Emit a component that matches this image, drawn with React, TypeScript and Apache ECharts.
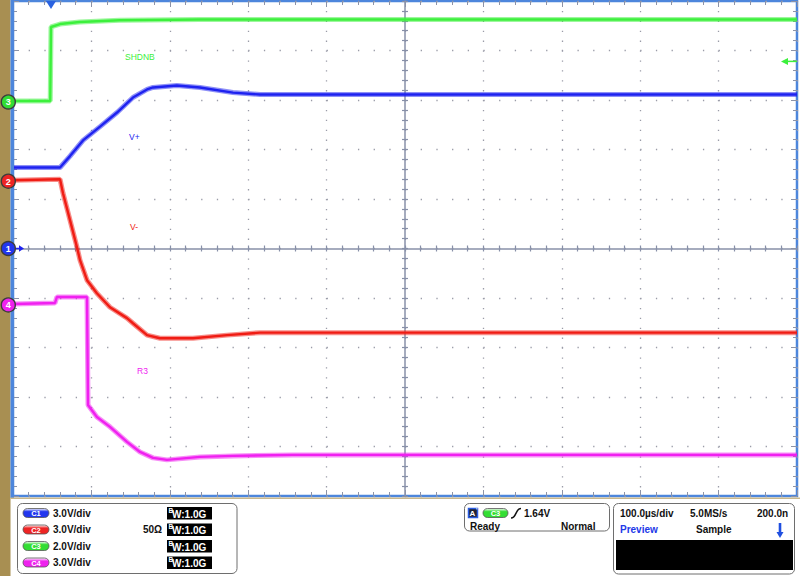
import React, { useEffect, useRef } from 'react';
import * as echarts from 'echarts';

// ---- horizontal: 100 µs/div, 10 divisions ----
const timeMin = 0;
const timeMax = 1000;
const timePerDiv = 100;

// ---- channels ----
const channelNames = ['C1', 'C2', 'C3', 'C4'];
const channelColors = ['#1e22f0', '#f01c14', '#3cf03c', '#f020f0'];
const pillColors = ['#2236ee', '#ee2424', '#33dd33', '#ee22ee'];
const voltsPerDiv = [3.0, 3.0, 2.0, 3.0];
const offsetDivs = [0.0, 1.36, 2.96, -1.14];
const scaleTexts = ['3.0V/div', '3.0V/div', '2.0V/div', '3.0V/div'];
const termTexts = ['', '50Ω', '', ''];
const bwTexts = ['W:1.0G', 'W:1.0G', 'W:1.0G', 'W:1.0G'];
const traceLabels = ['V+', 'V-', 'SHDNB', 'R3'];

// ---- waveforms (time µs, volts) ----
const c1Time = [0, 60, 72.7, 89.3, 111, 132.7, 153, 171, 178.6, 209, 238.5, 280.6, 315, 1000];
const c1Volts = [4.91, 4.91, 5.6, 6.55, 7.39, 8.24, 9.15, 9.64, 9.76, 9.88, 9.76, 9.45, 9.33, 9.33];

const c2Time = [0, 60, 63.8, 72.7, 81.6, 85.5, 94.4, 107, 123.7, 145.4, 153, 171, 187.5, 229.6, 273, 315, 1000];
const c2Volts = [0.06, 0.12, -0.73, -2.36, -4.0, -4.79, -6.0, -6.79, -7.64, -8.3, -8.61, -9.33, -9.52, -9.52, -9.33, -9.18, -9.18];

const c3Time = [0, 47.5, 48.5, 60, 85, 136, 239, 1000];
const c3Volts = [0.04, 0.04, 3.03, 3.15, 3.23, 3.3, 3.33, 3.33];

const c4Time = [0, 53.6, 56, 94.4, 95.7, 107, 123.7, 145.4, 162, 178.6, 196.4, 238.5, 280.6, 357, 1000];
const c4Volts = [0.06, 0.12, 0.48, 0.48, -6.06, -6.79, -7.39, -8.3, -8.91, -9.27, -9.39, -9.21, -9.15, -9.09, -9.09];

const channelTimes = [c1Time, c2Time, c3Time, c4Time];
const channelVolts = [c1Volts, c2Volts, c3Volts, c4Volts];

// ---- trigger ----
const triggerTime = 48.5;
const triggerLevel = 1.64;
const triggerChannel = 2; // C3
const triggerText = '1.64V';

const FONT = '"Liberation Sans", Arial, Helvetica, sans-serif';
const GRID = { left: 13, top: 1, width: 784, height: 495 };
const tickColor = '#8c93a8';
const dotColor = '#9a9ca8';
const crossColor = '#8890a8';

function txt(x: number, y: number, text: string, o: any = {}) {
  const align = o.align ?? 'left';
  return {
    type: 'text',
    z: 100,
    x,
    y,
    style: {
      text,
      fill: o.fill ?? '#111',
      font: `${o.weight ?? 'bold'} ${o.size ?? 10}px ${FONT}`,
      textAlign: align,
      align,
      textVerticalAlign: 'middle',
      verticalAlign: 'middle',
    },
  };
}

export default function App() {
  const ref = useRef<HTMLDivElement>(null);

  useEffect(() => {
    const el = ref.current!;
    const chart = echarts.init(el, null, { renderer: 'svg', width: 800, height: 576 });

    const xCommon: any = {
      type: 'value',
      min: timeMin,
      max: timeMax,
      interval: timePerDiv,
      axisLabel: { show: false },
      splitLine: { show: false },
    };
    const yCommon: any = {
      type: 'value',
      min: -5,
      max: 5,
      interval: 1,
      axisLabel: { show: false },
      splitLine: { show: false },
    };
    const edgeTick = { show: true, inside: true, length: 6, lineStyle: { color: tickColor, width: 1 } };
    const edgeMinor = { show: true, splitNumber: 5, length: 4, lineStyle: { color: tickColor, width: 1 } };

    const xAxis: any[] = [
      {
        ...xCommon,
        position: 'bottom',
        axisLine: { show: false, onZero: false },
        axisTick: edgeTick,
        minorTick: edgeMinor,
        splitLine: { show: true, lineStyle: { color: dotColor, width: 1.3, type: [1.3, 8.6] } },
      },
      { ...xCommon, position: 'top', axisLine: { show: false, onZero: false }, axisTick: edgeTick, minorTick: edgeMinor },
      {
        ...xCommon,
        position: 'bottom',
        offset: -GRID.height / 2,
        axisLine: { show: true, onZero: false, lineStyle: { color: crossColor, width: 1.5 } },
        axisTick: { show: true, inside: true, length: 3, lineStyle: { color: crossColor, width: 1.2 } },
        minorTick: { show: true, splitNumber: 5, length: 3, lineStyle: { color: crossColor, width: 1.2 } },
      },
      {
        ...xCommon,
        position: 'bottom',
        offset: -GRID.height / 2,
        axisLine: { show: false, onZero: false },
        axisTick: { show: true, inside: false, length: 3, lineStyle: { color: crossColor, width: 1.2 } },
        minorTick: { show: true, splitNumber: 5, length: 3, lineStyle: { color: crossColor, width: 1.2 } },
      },
    ];

    const yAxis: any[] = [
      {
        ...yCommon,
        position: 'left',
        axisLine: { show: false, onZero: false },
        axisTick: edgeTick,
        minorTick: edgeMinor,
        splitLine: { show: true, lineStyle: { color: dotColor, width: 1.3, type: [1.3, 14.38] } },
      },
      { ...yCommon, position: 'right', axisLine: { show: false, onZero: false }, axisTick: edgeTick, minorTick: edgeMinor },
      {
        ...yCommon,
        position: 'left',
        offset: -GRID.width / 2,
        axisLine: { show: true, onZero: false, lineStyle: { color: crossColor, width: 1.5 } },
        axisTick: { show: true, inside: true, length: 3, lineStyle: { color: crossColor, width: 1.2 } },
        minorTick: { show: true, splitNumber: 5, length: 3, lineStyle: { color: crossColor, width: 1.2 } },
      },
      {
        ...yCommon,
        position: 'left',
        offset: -GRID.width / 2,
        axisLine: { show: false, onZero: false },
        axisTick: { show: true, inside: false, length: 3, lineStyle: { color: crossColor, width: 1.2 } },
        minorTick: { show: true, splitNumber: 5, length: 3, lineStyle: { color: crossColor, width: 1.2 } },
      },
    ];
    channelNames.forEach((_, i) => {
      yAxis.push({
        type: 'value',
        show: false,
        min: (-5 - offsetDivs[i]) * voltsPerDiv[i],
        max: (5 - offsetDivs[i]) * voltsPerDiv[i],
        axisLine: { onZero: false },
        splitLine: { show: false },
      });
    });

    const series: any[] = [];
    const drawOrder = [3, 1, 0, 2];
    drawOrder.forEach((i) => {
      const data = channelTimes[i].map((t, k) => [t, channelVolts[i][k]]);
      series.push({
        type: 'line',
        name: channelNames[i] + ' band',
        xAxisIndex: 0,
        yAxisIndex: 4 + i,
        data,
        showSymbol: false,
        symbol: 'none',
        silent: true,
        lineStyle: { color: channelColors[i], width: 5, opacity: 0.5 },
        z: 3,
      });
      series.push({
        type: 'line',
        name: channelNames[i],
        xAxisIndex: 0,
        yAxisIndex: 4 + i,
        data,
        showSymbol: false,
        symbol: 'none',
        silent: true,
        lineStyle: { color: channelColors[i], width: 2.4 },
        z: 4,
      });
    });

    chart.setOption({
      animation: false,
      backgroundColor: '#ffffff',
      grid: {
        ...GRID,
        show: true,
        borderColor: '#4d86dc',
        borderWidth: 2.5,
        backgroundColor: '#ffffff',
      },
      xAxis,
      yAxis,
      series,
    });

    // ---- graphics placed through the axes ----
    const g: any[] = [];
    // frame decorations
    g.push({ type: 'rect', z: 90, shape: { x: 0, y: 0, width: 10.5, height: 576 }, style: { fill: '#a88f52' } });
    g.push({ type: 'rect', z: 91, shape: { x: 10.5, y: 0, width: 3.5, height: 498 }, style: { fill: '#4d86dc' } });
    g.push({ type: 'rect', z: 91, shape: { x: 10.5, y: 497.5, width: 790, height: 1.5 }, style: { fill: '#c9b88c' } });

    // trace labels
    const labelPos = [
      [129, 137],
      [130, 227],
      [125, 57],
      [137, 371],
    ];
    traceLabels.forEach((t, i) => {
      g.push(txt(labelPos[i][0], labelPos[i][1], t, { fill: channelColors[i], weight: 'normal', size: 8.5 }));
    });

    // channel ground markers
    channelNames.forEach((_, i) => {
      const y = chart.convertToPixel({ yAxisIndex: 4 + i }, 0) as number;
      if (i === 0) {
        g.push({ type: 'line', z: 99, shape: { x1: 14, y1: y, x2: 20, y2: y }, style: { stroke: channelColors[0], lineWidth: 1.5 } });
        g.push({ type: 'polygon', z: 99, shape: { points: [[19, y - 3.2], [24, y], [19, y + 3.2]] }, style: { fill: channelColors[0] } });
      }
      g.push({
        type: 'circle',
        z: 100,
        shape: { cx: 8.3, cy: y, r: 7 },
        style: { fill: pillColors[i], stroke: '#3c3c3c', lineWidth: 1.4 },
      });
      g.push(txt(8.3, y + 0.5, String(i + 1), { fill: '#ffffff', size: 9, align: 'center' }));
    });

    // trigger position marker
    const tx = chart.convertToPixel({ xAxisIndex: 0 }, triggerTime) as number;
    g.push({ type: 'polygon', z: 100, shape: { points: [[tx - 5, 1], [tx + 5, 1], [tx, 9]] }, style: { fill: '#2a62e0' } });

    // trigger level marker
    const ly = chart.convertToPixel({ yAxisIndex: 4 + triggerChannel }, triggerLevel) as number;
    g.push({ type: 'line', z: 100, shape: { x1: 787, y1: ly, x2: 797, y2: ly }, style: { stroke: channelColors[2], lineWidth: 1.5 } });
    g.push({ type: 'polygon', z: 100, shape: { points: [[781, ly], [788, ly - 3.5], [788, ly + 3.5]] }, style: { fill: channelColors[2] } });

    // ---- info panel: channel box ----
    g.push({
      type: 'rect', z: 95,
      shape: { x: 17.5, y: 503.5, width: 219.5, height: 70, r: 5 },
      style: { fill: '#ffffff', stroke: '#6e6e6e', lineWidth: 1 },
    });
    const rows = [513, 529.5, 546, 562.5];
    channelNames.forEach((name, i) => {
      const ry = rows[i];
      g.push({
        type: 'rect', z: 100,
        shape: { x: 23, y: ry - 4.5, width: 26, height: 9, r: 4.5 },
        style: {
          fill: new echarts.graphic.LinearGradient(0, 0, 0, 1, [
            { offset: 0, color: '#ffffff' },
            { offset: 0.35, color: pillColors[i] },
            { offset: 1, color: pillColors[i] },
          ]),
          stroke: '#555',
          lineWidth: 0.8,
        },
      });
      g.push(txt(36, ry + 0.5, name, { fill: '#ffffff', size: 7.5, align: 'center' }));
      g.push(txt(53, ry, scaleTexts[i], { size: 10 }));
      if (termTexts[i]) g.push(txt(143, ry, termTexts[i], { size: 10 }));
      g.push({ type: 'rect', z: 100, shape: { x: 167, y: ry - 6, width: 45, height: 12.5 }, style: { fill: '#000000' } });
      g.push(txt(168.5, ry - 3, 'B', { fill: '#ffffff', size: 6.5 }));
      g.push(txt(172, ry + 1, bwTexts[i], { fill: '#ffffff', size: 10 }));
    });

    // ---- info panel: trigger box ----
    g.push({
      type: 'rect', z: 95,
      shape: { x: 464.5, y: 503.5, width: 145, height: 27.5, r: 5 },
      style: { fill: '#ffffff', stroke: '#6e6e6e', lineWidth: 1 },
    });
    g.push({ type: 'rect', z: 100, shape: { x: 468.5, y: 508.5, width: 9, height: 9 }, style: { fill: '#1f2233', stroke: '#2a5be0', lineWidth: 1.5 } });
    g.push(txt(472.5, 513.3, 'A', { fill: '#ffffff', size: 8, align: 'center' }));
    g.push(txt(476, 510, "'", { fill: '#ffffff', size: 6 }));
    g.push({
      type: 'rect', z: 100,
      shape: { x: 483, y: 508.5, width: 25, height: 9, r: 4.5 },
      style: {
        fill: new echarts.graphic.LinearGradient(0, 0, 0, 1, [
          { offset: 0, color: '#ffffff' },
          { offset: 0.35, color: pillColors[2] },
          { offset: 1, color: pillColors[2] },
        ]),
        stroke: '#555',
        lineWidth: 0.8,
      },
    });
    g.push(txt(495.5, 513.5, channelNames[triggerChannel], { fill: '#ffffff', size: 7.5, align: 'center' }));
    g.push({
      type: 'bezierCurve', z: 100,
      shape: { x1: 511, y1: 518, x2: 521, y2: 508.5, cpx1: 517, cpy1: 518, cpx2: 515, cpy2: 508.5 },
      style: { stroke: '#111', lineWidth: 1.6, fill: 'none' },
    });
    g.push(txt(524, 513, triggerText, { size: 10 }));
    g.push(txt(470, 526, 'Ready', { size: 10 }));
    g.push(txt(561, 526, 'Normal', { size: 10 }));

    // ---- info panel: timebase box ----
    g.push({
      type: 'rect', z: 95,
      shape: { x: 613.5, y: 503.5, width: 181, height: 70.5, r: 5 },
      style: { fill: '#ffffff', stroke: '#6e6e6e', lineWidth: 1 },
    });
    g.push(txt(620, 513, '100.0µs/div', { size: 10 }));
    g.push(txt(690, 513, '5.0MS/s', { size: 10 }));
    g.push(txt(757, 513, '200.0n', { size: 10 }));
    g.push(txt(620, 529, 'Preview', { size: 10, fill: '#2238e8' }));
    g.push(txt(696, 529, 'Sample', { size: 10 }));
    g.push({ type: 'line', z: 100, shape: { x1: 780, y1: 523, x2: 780, y2: 533 }, style: { stroke: '#1f4fe0', lineWidth: 2.6 } });
    g.push({ type: 'polygon', z: 100, shape: { points: [[776.5, 532], [783.5, 532], [780, 538]] }, style: { fill: '#1f4fe0' } });
    g.push({ type: 'rect', z: 100, shape: { x: 616, y: 540, width: 177, height: 30 }, style: { fill: '#000000' } });

    chart.setOption({ graphic: { elements: g } });

    return () => chart.dispose();
  }, []);

  return (
    <div
      ref={ref}
      style={{ position: 'fixed', left: 0, top: 0, width: 800, height: 576, background: '#ffffff' }}
    />
  );
}
